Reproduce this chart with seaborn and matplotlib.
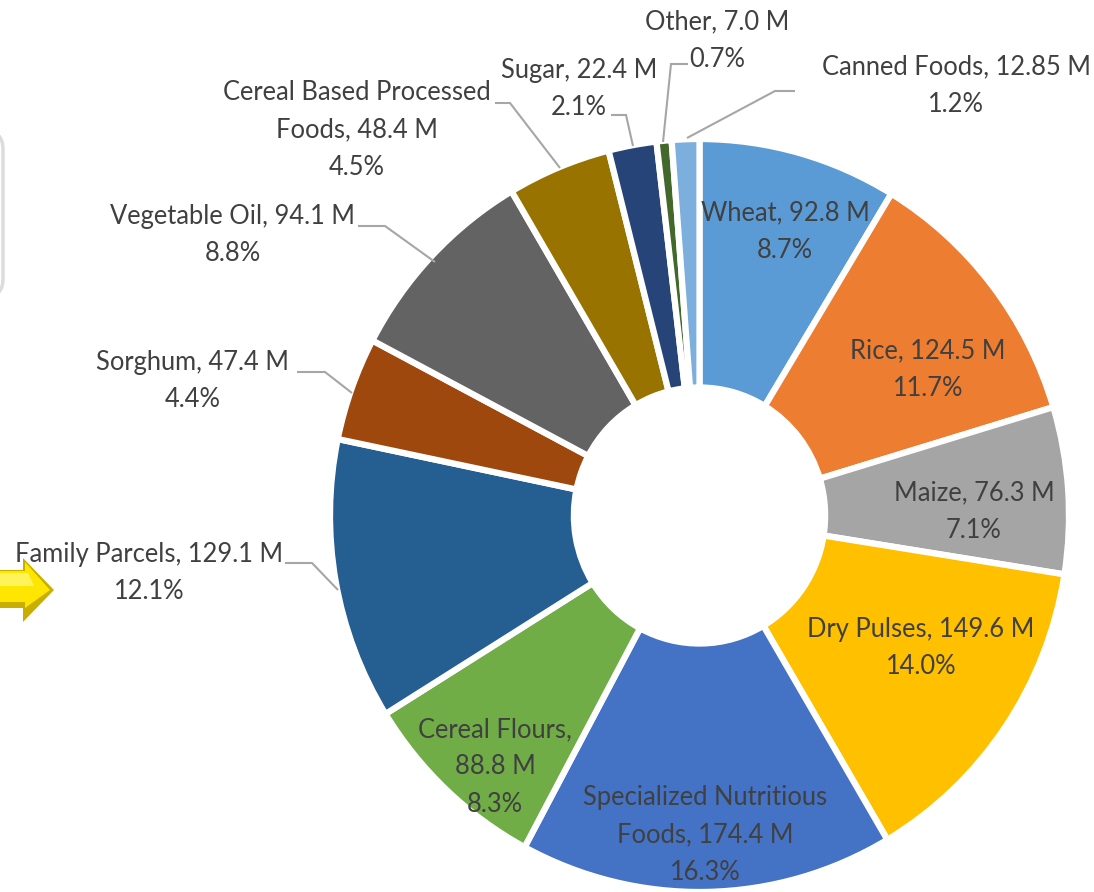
import matplotlib
matplotlib.use("Agg")
import matplotlib.pyplot as plt
from matplotlib.patches import FancyBboxPatch, Polygon
import seaborn as sns

sns.set_theme(style="white")
plt.rcParams['font.family'] = ['Lato', 'DejaVu Sans']

categories = ["Wheat", "Rice", "Maize", "Dry Pulses", "Specialized Nutritious Foods",
              "Cereal Flours", "Family Parcels", "Sorghum", "Vegetable Oil",
              "Cereal Based Processed Foods", "Sugar", "Other", "Canned Foods"]
values = [92.8, 124.5, 76.3, 149.6, 174.4, 88.8, 129.1, 47.4, 94.1, 48.4, 22.4, 7.0, 12.85]
colors = ["#5B9BD5", "#ED7D31", "#A5A5A5", "#FFC000", "#4472C4", "#70AD47", "#255E91",
          "#9E480E", "#636363", "#997300", "#264478", "#43682B", "#7CAFDD"]
label_lines = [
    "Wheat, 92.8 M\n8.7%", "Rice, 124.5 M\n11.7%", "Maize, 76.3 M\n7.1%",
    "Dry Pulses, 149.6 M\n14.0%", "Specialized Nutritious\nFoods, 174.4 M\n16.3%",
    "Cereal Flours,\n88.8 M\n8.3%", "Family Parcels, 129.1 M\n12.1%", "Sorghum, 47.4 M\n4.4%",
    "Vegetable Oil, 94.1 M\n8.8%", "Cereal Based Processed\nFoods, 48.4 M\n4.5%",
    "Sugar, 22.4 M\n2.1%", "Other, 7.0 M\n0.7%", "Canned Foods, 12.85 M\n1.2%"]
label_xy = [(785, 232), (928, 370), (974, 512), (921, 648), (705, 835), (495, 767),
            (149, 573), (193, 381), (233, 235), (357, 130), (579, 89), (717, 41), (956, 86)]
leaders = [[(285, 563), (312, 563), (338, 590)], [(297, 372), (325, 372), (352, 393)],
           [(358, 226), (385, 226), (435, 262)], [(495, 103), (510, 103), (560, 168)],
           [(611, 115), (626, 115), (633, 146)], [(688, 64), (671, 64), (663, 142)],
           [(795, 91), (775, 91), (687, 138)]]

W, H = 1094, 892
fig = plt.figure(figsize=(W / 100, H / 100), dpi=100, facecolor="white")

# pie axes: spans the ring's pixel box
L, R, T, B = 330, 1069, 139, 892
ax = fig.add_axes([L / W, 1 - B / H, (R - L) / W, (B - T) / H])
ax.pie(values, colors=colors, startangle=90, counterclock=False, radius=1,
       wedgeprops=dict(width=0.66, edgecolor="white", linewidth=4.5))
ax.set_aspect("auto")
ax.set_xlim(-1, 1)
ax.set_ylim(-1, 1)
ax.axis("off")

# overlay in pixel coordinates
ov = fig.add_axes([0, 0, 1, 1], zorder=5)
ov.set_xlim(0, W)
ov.set_ylim(H, 0)
ov.axis("off")
ov.patch.set_alpha(0)

for pts in leaders:
    xs, ys = zip(*pts)
    ov.plot(xs, ys, color="#A6A6A6", lw=1.5, solid_capstyle="butt", solid_joinstyle="miter")

for txt, (x, y) in zip(label_lines, label_xy):
    ov.text(x, y, txt, ha="center", va="center", fontsize=18.4, color="#404040",
            linespacing=1.63)

# rounded box cut off at the left edge
ov.add_patch(FancyBboxPatch((-60, 131), 63, 166, boxstyle="round,pad=0,rounding_size=18",
                            fc="white", ec="#DCDCDC", lw=2.5))

# yellow arrow
shaft_top, shaft_bot = 570, 608
ov.add_patch(Polygon([(-2, shaft_bot), (23, shaft_bot), (23, 622), (54, 590), (23, 558),
                      (23, shaft_top), (-2, shaft_top)], fc="#C9AE00", ec="none"))
ov.add_patch(Polygon([(-2, shaft_top + 1), (25, shaft_top + 1), (25, 562), (50, 590), (25, 608),
                      (25, shaft_bot - 6), (-2, shaft_bot - 6)], fc="#FFE600", ec="none"))
ov.add_patch(Polygon([(-2, 573), (28, 573), (34, 586), (-2, 586)], fc="#FFF35A", ec="none"))

fig.savefig("out.png", dpi=100, facecolor="white")
